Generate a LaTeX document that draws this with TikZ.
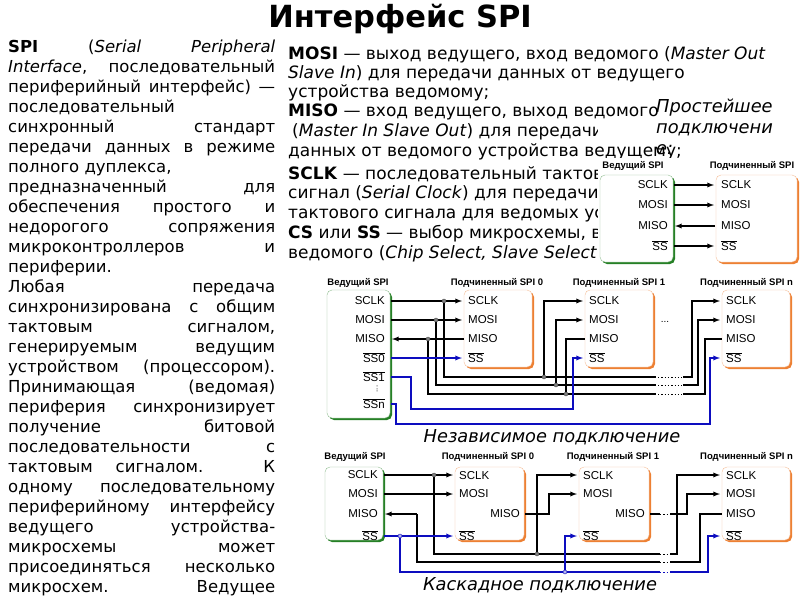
\documentclass[tikz,border=0pt]{standalone}
\usepackage{fontspec}
\setmainfont{DejaVu Sans}
\newfontfamily\diafont{Liberation Sans}
\usetikzlibrary{positioning, calc, arrows}
\definecolor{mgreen}{rgb}{0.15, 0.5, 0.15}
\definecolor{sorange}{rgb}{0.93, 0.5, 0.2}
\definecolor{sblue}{rgb}{0.05, 0.05, 0.75}
\tikzset{
  wire/.style={black, line width=1.3pt},
  selw/.style={sblue, line width=1.3pt},
  to/.style={-latex},
  pinL/.style={font=\diafont\fontsize{11.5}{12}\selectfont, anchor=east, inner sep=0pt},
  pinR/.style={font=\diafont\fontsize{11.5}{12}\selectfont, anchor=west, inner sep=0pt},
  head/.style={font=\diafont\bfseries\fontsize{9.5}{10}\selectfont, inner sep=0pt},
  capt/.style={font=\itshape\fontsize{17.8}{20}\selectfont, inner sep=0pt},
  jn/.style={circle, fill=gray, draw=black!70, inner sep=0pt, minimum size=4pt},
  body/.style={anchor=west, inner sep=0pt, font=\fontsize{17}{19}\selectfont},
  shad/.style={rounded corners=5pt},
  frame/.style={fill=white, rounded corners=5pt}
}
\newcommand{\ovl}[1]{$\overline{\hbox{#1}}$}
\begin{document}
\begin{tikzpicture}[x=1pt, y=-1pt]
\useasboundingbox[fill=white] (0,0) rectangle (800,600);

% title
\node[font=\bfseries\fontsize{30.5}{32}\selectfont] (title) at (400,19) {Интерфейс SPI};

% left column
\node[anchor=north west, inner sep=0pt, text width=267pt, align=justify,
  font=\fontsize{16.5}{20}\selectfont] (leftcol) at (8,40) {%
\textbf{SPI} (\textit{Serial Peripheral}\linebreak
\textit{Interface}, последовательный\linebreak
периферийный интерфейс) —\linebreak
последовательный\\
синхронный стандарт\linebreak
передачи данных в режиме\linebreak
полного дуплекса,\\
предназначенный для\linebreak
обеспечения простого и\linebreak
недорогого сопряжения\linebreak
микроконтроллеров и\linebreak
периферии.\\
Любая передача\linebreak
синхронизирована с общим\linebreak
тактовым сигналом,\linebreak
генерируемым ведущим\linebreak
устройством (процессором).\linebreak
Принимающая (ведомая)\linebreak
периферия синхронизирует\linebreak
получение битовой\linebreak
последовательности с\linebreak
тактовым сигналом. К\linebreak
одному последовательному\linebreak
периферийному интерфейсу\linebreak
ведущего устройства-\linebreak
микросхемы может\linebreak
присоединяться несколько\linebreak
микросхем. Ведущее\linebreak\hbox{}};

% right column
\node[body] (r1) at (288,55) {\textbf{MOSI} — выход ведущего, вход ведомого (\textit{Master Out}};
\node[body] (r2) at (288,74) {\textit{Slave In}) для передачи данных от ведущего};
\node[body] (r3) at (288,93) {устройства ведомому;};
\node[body] (r4) at (288,112) {\textbf{MISO} — вход ведущего, выход ведомого};
\node[body] (r5) at (292,132) {(\textit{Master In Slave Out}) для передачи};
\node[body] (r6) at (288,152) {данных от ведомого устройства ведущему;};
\node[body] (r7) at (288,174) {\textbf{SCLK} — последовательный тактовый};
\node[body] (r8) at (288,194) {сигнал (\textit{Serial Clock}) для передачи};
\node[body] (r9) at (288,214) {тактового сигнала для ведомых устройств;};
\node[body] (r10) at (288,234) {\textbf{CS} или \textbf{SS} — выбор микросхемы, выбор};
\node[body] (r11) at (288,254) {ведомого (\textit{Chip Select, Slave Select})};
\fill[white] (598,120) rectangle (800,143);
\fill[white] (598,158) rectangle (800,268);
\node[anchor=west, inner sep=0pt, font=\itshape\fontsize{17.8}{20}\selectfont] (pr1) at (656,108) {Простейшее};
\node[anchor=west, inner sep=0pt, font=\itshape\fontsize{17.8}{20}\selectfont] (pr2) at (656,130) {подключени};
\node[anchor=west, inner sep=0pt, font=\itshape\fontsize{17.8}{20}\selectfont] (pr3) at (656,150) {е:};

% ---- simple connection
\fill[mgreen, shad] (602,177) rectangle (675,264);
\draw[mgreen!50, frame] (600,175) rectangle (673,262);
\fill[sorange, shad] (718,177) rectangle (799,264);
\draw[sorange!50, frame] (716,175) rectangle (797,262);
\node[head] (sm) at (633,166) {Ведущий SPI};
\node[head] (ss) at (752,166) {Подчиненный SPI};
\node[pinL] (smclk) at (668,185) {SCLK};
\node[pinL] (smmosi) at (668,205) {MOSI};
\node[pinL] (smmiso) at (668,226) {MISO};
\node[pinL] (smss) at (668,246) {\ovl{SS}};
\node[pinR] (ssclk) at (721,185) {SCLK};
\node[pinR] (ssmosi) at (721,205) {MOSI};
\node[pinR] (ssmiso) at (721,226) {MISO};
\node[pinR] (ssss) at (721,246) {\ovl{SS}};
\draw[wire,to] (674,185) -- (714,185);
\draw[wire,to] (674,205) -- (714,205);
\draw[wire,to] (715,226) -- (675,226);
\draw[wire,to] (674,246) -- (714,246);

% ---- independent connection
\fill[mgreen, shad] (329,292) rectangle (392,420);
\draw[mgreen!50, frame] (327,290) rectangle (390,418);
\foreach \xa/\xb in {464/532, 585/653, 722/790}{
  \fill[sorange, shad] (\xa+2,292) rectangle (\xb+2,369);
  \draw[sorange!50, frame] (\xa,290) rectangle (\xb,367);
}
\node[head] (im) at (358,283) {Ведущий SPI};
\node[head] (is0) at (497,283) {Подчиненный SPI 0};
\node[head] (is1) at (619,283) {Подчиненный SPI 1};
\node[head, anchor=west] (isn) at (700,283) {Подчиненный SPI n};
\node[pinL] (imclk) at (385,301) {SCLK};
\node[pinL] (immosi) at (385,320) {MOSI};
\node[pinL] (immiso) at (385,339) {MISO};
\node[pinL] (imss0) at (385,358) {\ovl{SS0}};
\node[pinL] (imss1) at (385,377) {\ovl{SS1}};
\node[pinL, font=\diafont\fontsize{8}{8}\selectfont] (imdots) at (378,389) {\rotatebox{90}{...}};
\node[pinL] (imssn) at (385,404) {\ovl{SSn}};
\foreach \xa/\n in {468/0, 589/1, 726/n}{
  \node[pinR] (is\n clk) at (\xa,301) {SCLK};
  \node[pinR] (is\n mosi) at (\xa,320) {MOSI};
  \node[pinR] (is\n miso) at (\xa,339) {MISO};
  \node[pinR] (is\n ss) at (\xa,358) {\ovl{SS}};
}
\node[font=\diafont] (idots) at (665,322) {...};
% bus
\draw[wire,to] (391,301) -- (462,301);
\draw[wire] (444,301) -- (444,377) -- (656,377);
\draw[wire,to] (544,377) -- (544,301) -- (583,301);
\draw[wire,to] (683,377) -- (692,377) -- (692,301) -- (720,301);
\draw[wire,to] (391,320) -- (462,320);
\draw[wire] (436,320) -- (436,385) -- (656,385);
\draw[wire,to] (556,385) -- (556,320) -- (583,320);
\draw[wire,to] (683,385) -- (698,385) -- (698,320) -- (720,320);
\draw[wire,to] (464,339) -- (392,339);
\draw[wire] (428,339) -- (428,394) -- (656,394);
\draw[wire] (566,394) -- (566,339) -- (585,339);
\draw[wire] (683,394) -- (705,394) -- (705,339) -- (722,339);
\foreach \y in {377,385,394}{
  \draw[wire, dotted, line width=1pt] (658,\y) -- (682,\y);
}
\foreach \p in {(444,301),(544,377),(436,320),(556,385),(428,339),(566,394)}{
  \node[jn] at \p {};
}
\draw[selw,to] (391,358) -- (462,358);
\draw[selw,to] (391,377) -- (411,377) -- (411,409) -- (573,409) -- (573,358) -- (583,358);
\draw[selw,to] (391,404) -- (396,404) -- (396,424) -- (710,424) -- (710,358) -- (720,358);
\node[capt] (icap) at (552,437) {Независимое подключение};

% ---- cascade connection
\fill[mgreen, shad] (327,469) rectangle (385,542);
\draw[mgreen!50, frame] (325,467) rectangle (383,540);
\foreach \xa/\xb in {455/524, 579/649, 722/790}{
  \fill[sorange, shad] (\xa+2,469) rectangle (\xb+2,542);
  \draw[sorange!50, frame] (\xa,467) rectangle (\xb,540);
}
\node[head] (cm) at (355,457) {Ведущий SPI};
\node[head] (cs0) at (488,457) {Подчиненный SPI 0};
\node[head] (cs1) at (613,457) {Подчиненный SPI 1};
\node[head, anchor=west] (csn) at (700,457) {Подчиненный SPI n};
\node[pinL] (cmclk) at (378,475) {SCLK};
\node[pinL] (cmmosi) at (378,494) {MOSI};
\node[pinL] (cmmiso) at (378,514) {MISO};
\node[pinL] (cmss) at (378,536) {\ovl{SS}};
\foreach \xa/\n in {459/0, 583/1, 726/n}{
  \node[pinR] (cs\n clk) at (\xa,476) {SCLK};
  \node[pinR] (cs\n mosi) at (\xa,494) {MOSI};
  \node[pinR] (cs\n ss) at (\xa,536) {\ovl{SS}};
}
\node[pinL] (cs0miso) at (520,514) {MISO};
\node[pinL] (cs1miso) at (645,514) {MISO};
\node[pinR] (csnmiso) at (726,514) {MISO};
\draw[wire,to] (384,475) -- (453,475);
\draw[wire] (434,475) -- (434,554) -- (660,554);
\draw[wire,to] (537,554) -- (537,475) -- (577,475);
\draw[wire,to] (670,554) -- (677,554) -- (677,475) -- (720,475);
\draw[wire,to] (384,494) -- (453,494);
\draw[wire,to] (525,514) -- (549,514) -- (549,494) -- (577,494);
\draw[wire] (650,514) -- (660,514);
\draw[wire,to] (670,514) -- (687,514) -- (687,494) -- (720,494);
\draw[wire] (417,514) -- (417,562) -- (660,562);
\draw[wire,to] (417,514) -- (385,514);
\draw[wire] (670,562) -- (700,562) -- (700,514) -- (722,514);
\foreach \y in {514,554,562}{
  \draw[wire, dotted, line width=1pt] (660,\y) -- (670,\y);
}
\draw[selw,to] (384,536) -- (453,536);
\draw[selw] (400,536) -- (400,572) -- (660,572);
\draw[selw,to] (565,572) -- (565,536) -- (577,536);
\draw[selw, dotted, line width=1pt] (660,572) -- (670,572);
\draw[selw,to] (670,572) -- (708,572) -- (708,536) -- (720,536);
\foreach \p in {(434,475),(537,554)}{
  \node[jn] at \p {};
}
\foreach \p in {(400,536),(565,572)}{
  \node[jn, fill=sblue!30, draw=sblue] at \p {};
}
\node[capt] (ccap) at (540,585) {Каскадное подключение};
\end{tikzpicture}
\end{document}
